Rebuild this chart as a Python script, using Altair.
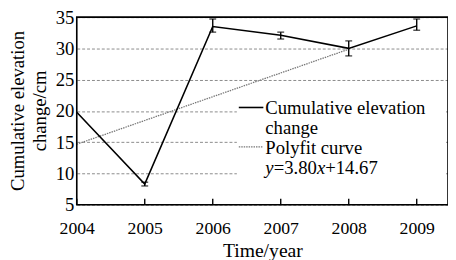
import altair as alt
import pandas as pd

years = [2004, 2005, 2006, 2007, 2008, 2009]
elev = [19.8, 8.3, 33.5, 32.1, 30.0, 33.6]
err_low = [19.8, 8.0, 32.6, 31.5, 28.8, 32.9]
err_high = [19.8, 8.6, 34.7, 32.6, 31.2, 34.7]
fit_x = [2004, 2008]
fit_y = [14.67, 29.87]
y_ticks = [5, 10, 15, 20, 25, 30, 35]

FONT = "Liberation Serif"
W, H = 378, 191

df = pd.DataFrame({"year": years, "elev": elev, "lo": err_low, "hi": err_high})
df_fit = pd.DataFrame({"year": fit_x, "fit": fit_y})
df_err = df[df["hi"] > df["lo"]]

xs = alt.Scale(domain=[2004, 2009.46], nice=False, zero=False)
ys = alt.Scale(domain=[5, 35], nice=False, zero=False)

x_axis = alt.Axis(values=years, format="d", tickSize=0, labelFont=FONT, labelFontSize=18,
                  labelColor="black", labelPadding=15, labelFlush=False, labelOverlap=False,
                  domain=False, grid=False,
                  title="Time/year", titleFont=FONT, titleFontSize=20, titleFontWeight="normal",
                  titleColor="black", titleY=47, titleBaseline="middle")
y_axis = alt.Axis(values=y_ticks, tickSize=0, labelFont=FONT, labelFontSize=19, labelColor="black",
                  labelPadding=3, labelFlush=False, labelOverlap=False, domain=False, grid=True,
                  gridDash=[3, 2], gridColor="#8a8a8a", gridWidth=1,
                  title=["Cumulative elevation", "change/cm"], titleFont=FONT, titleFontSize=19,
                  titleFontWeight="normal", titleColor="black", titleLineHeight=22,
                  titleX=-60, titleY=95, titleBaseline="middle", titleAngle=270)

X = alt.X("year:Q", scale=xs, axis=x_axis)
def Y(f):
    return alt.Y(f, scale=ys, axis=y_axis)

base = alt.Chart(df)

line = base.mark_line(color="black", strokeWidth=1.6).encode(x=X, y=Y("elev:Q"))

err_rule = alt.Chart(df_err).mark_rule(color="black", strokeWidth=1.4).encode(
    x=X, y=Y("lo:Q"), y2="hi:Q")
cap_lo = alt.Chart(df_err).mark_tick(color="black", orient="horizontal", size=7, thickness=1.4).encode(
    x=X, y=Y("lo:Q"))
cap_hi = alt.Chart(df_err).mark_tick(color="black", orient="horizontal", size=7, thickness=1.4).encode(
    x=X, y=Y("hi:Q"))

fit = alt.Chart(df_fit).mark_line(color="#777777", strokeWidth=1.3, strokeDash=[1.5, 1]).encode(
    x=X, y=Y("fit:Q"))

xticks = base.mark_rule(color="black", strokeWidth=1.4).encode(
    x=X, y=alt.value(H - 6), y2=alt.value(H))

one = pd.DataFrame({"a": [0]})
legend_box = alt.Chart(one).mark_rect(color="white").encode(
    x=alt.value(163), x2=alt.value(376), y=alt.value(79), y2=alt.value(167))

frame = alt.Chart(one).mark_rect(fillOpacity=0, stroke="black", strokeWidth=1.6).encode(
    x=alt.value(0), x2=alt.value(W), y=alt.value(0), y2=alt.value(H))

leg_solid = alt.Chart(one).mark_rule(color="black", strokeWidth=1.6).encode(
    x=alt.value(165), x2=alt.value(190), y=alt.value(92))
leg_dot = alt.Chart(one).mark_rule(color="#777777", strokeWidth=1.3, strokeDash=[1.5, 1]).encode(
    x=alt.value(165), x2=alt.value(190), y=alt.value(132))

leg_lines = pd.DataFrame({
    "t": ["Cumulative   elevation", "change", "Polyfit  curve"],
    "yy": [92.5, 112.5, 133],
})
leg_text = alt.Chart(leg_lines).mark_text(font=FONT, fontSize=19, align="left", baseline="middle",
                                          color="black").encode(
    x=alt.value(192), y=alt.Y("yy:Q", scale=None), text="t:N")

eq_parts = pd.DataFrame({
    "t": ["y", "=3.80", "x", "+14.67"],
    "xx": [192, 200.5, 244.5, 253],
    "st": ["italic", "normal", "italic", "normal"],
})
eq_it = alt.Chart(eq_parts[eq_parts.st == "italic"]).mark_text(
    font=FONT, fontSize=19, fontStyle="italic", align="left", baseline="middle", color="black").encode(
    x=alt.X("xx:Q", scale=None), y=alt.value(154), text="t:N")
eq_n = alt.Chart(eq_parts[eq_parts.st == "normal"]).mark_text(
    font=FONT, fontSize=19, align="left", baseline="middle", color="black").encode(
    x=alt.X("xx:Q", scale=None), y=alt.value(154), text="t:N")

chart = alt.layer(
    legend_box, fit, line, err_rule, cap_lo, cap_hi, xticks, frame,
    leg_solid, leg_dot, leg_text, eq_it, eq_n
).properties(
    width=W, height=H,
    autosize=alt.AutoSizeParams(type="none"),
    padding={"left": 70, "top": 7, "right": 0, "bottom": 54},
).configure_view(stroke=None).configure(background="white")

chart.save("out.html", embed_options={"renderer": "svg", "actions": False})
